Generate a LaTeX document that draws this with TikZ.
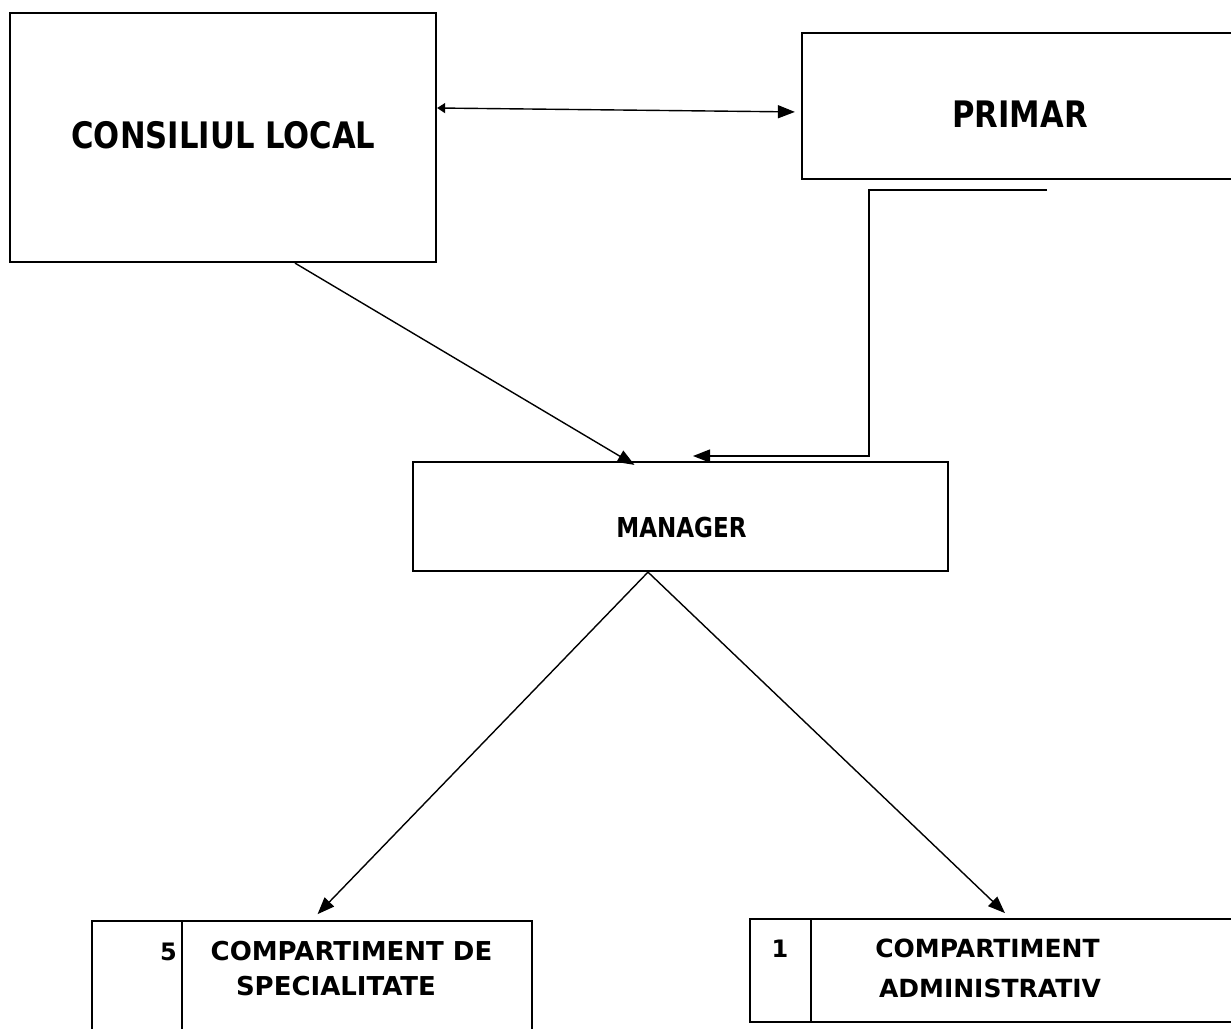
\documentclass[tikz,border=0pt]{standalone}
\usepackage{fontspec}
\newfontfamily\topfont[FakeStretch=0.84]{DejaVu Sans}
\newfontfamily\botfont{DejaVu Sans}
\usetikzlibrary{arrows.meta}
\begin{document}
\begin{tikzpicture}[x=1pt,y=-1pt,
  box/.style={draw, line width=2.2pt, rectangle, inner sep=0pt, fill=none},
  conn/.style={draw, line width=1.4pt, line join=miter},
  tip/.style={-{Triangle[length=17pt,width=13pt]}},
  bigtxt/.style={font=\topfont\bfseries\fontsize{36.5}{40}\selectfont, inner sep=0pt, anchor=base},
  midtxt/.style={font=\topfont\bfseries\fontsize{27.4}{32}\selectfont, inner sep=0pt, anchor=base},
  bottxt/.style={font=\botfont\bfseries\fontsize{26}{30}\selectfont, inner sep=0pt, anchor=base},
  numtxt/.style={font=\botfont\bfseries\fontsize{24}{28}\selectfont, inner sep=0pt, anchor=base}
]
\useasboundingbox (0,0) rectangle (1231,1028);
\clip (0,0) rectangle (1231,1028);
\fill[white] (0,0) rectangle (1231,1028);

% boxes
\node[box, minimum width=426pt, minimum height=249pt] (cl) at (223,137.5) {};
\node[box, minimum width=458pt, minimum height=146pt] (primar) at (1031,106) {};
\node[box, minimum width=535pt, minimum height=109pt] (manager) at (680.5,516.5) {};
\node[box, minimum width=440pt, minimum height=140pt] (spec) at (312,991) {};
\node[box, minimum width=520pt, minimum height=103pt] (adm) at (1010,970.5) {};

% dividers in bottom boxes
\coordinate (sd1) at (182,921);
\coordinate (sd2) at (182,1061);
\draw[line width=1.6pt] (sd1) -- (sd2);
\coordinate (ad1) at (811,919);
\coordinate (ad2) at (811,1022);
\draw[line width=1.6pt] (ad1) -- (ad2);

% texts
\node[bigtxt] (tcl) at (223.5,148) {CONSILIUL LOCAL};
\node[bigtxt] (tpr) at (1020,127) {PRIMAR};
\node[midtxt] (tmg) at (681.5,537) {MANAGER};
\node[numtxt, anchor=base east] (n5) at (177,960) {5};
\node[bottxt] (ts1) at (351.5,960) {COMPARTIMENT DE};
\node[bottxt] (ts2) at (336,995) {SPECIALITATE};
\node[numtxt] (n1) at (780,957) {1};
\node[bottxt, font=\botfont\bfseries\fontsize{25}{30}\selectfont] (ta1) at (987.5,957) {COMPARTIMENT};
\node[bottxt, font=\botfont\bfseries\fontsize{25}{30}\selectfont] (ta2) at (990,997) {ADMINISTRATIV};

% connectors
\draw[conn, {Triangle[length=8pt,width=10pt]}-{Triangle[length=17pt,width=13pt]}, shorten >=6pt]
  ([yshift=29.5pt]cl.east) -- ([yshift=-6pt]primar.west);
\draw[conn, tip] ([xshift=72pt]cl.south) -- ([xshift=-46pt,yshift=-4pt]manager.north);
\coordinate (p1) at (1047,190);
\coordinate (p2) at (869,190);
\coordinate (p3) at (869,456);
\coordinate (p4) at (693,456);
\draw[conn, tip] (p1) -- (p2) -- (p3) -- (p4);
\draw[conn, tip, shorten >=8pt] ([xshift=-32.5pt]manager.south) -- (spec.north);
\draw[conn, tip, shorten >=7pt] ([xshift=-32.5pt]manager.south) -- (adm.north);
\end{tikzpicture}
\end{document}
